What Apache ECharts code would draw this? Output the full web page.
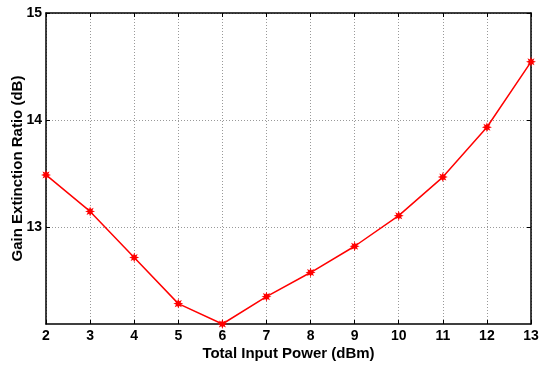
<!DOCTYPE html>
<html><head><meta charset="utf-8">
<script src="https://cdn.jsdelivr.net/npm/echarts@6/dist/echarts.min.js"></script>
<style>html,body{margin:0;padding:0;background:#fff}#c{width:539px;height:365px}</style>
</head><body><div id="c"></div>
<script>
var xValues = [2,3,4,5,6,7,8,9,10,11,12,13];
var gainRatio = [13.49,13.15,12.72,12.29,12.10,12.355,12.58,12.825,13.11,13.47,13.935,14.545];
var yTicks = [13,14,15];

// asterisk symbol shape
function starPath(){
  var pts=[]; var n=8;
  for(var i=0;i<2*n;i++){
    var r = i%2===0?1:0.5; var a = Math.PI*i/n - Math.PI/2;
    pts.push((r*Math.cos(a)).toFixed(3)+','+(r*Math.sin(a)).toFixed(3));
  }
  return 'path://M'+pts.join('L')+'Z';
}
var font = 'Liberation Sans, Arial, sans-serif';
var chart = echarts.init(document.getElementById('c'));
var axisLineStyle = {color:'#000', width:1.5};
chart.setOption({
  animation:false,
  grid:{left:46,right:8,top:13,bottom:41,outerBoundsMode:'none',containLabel:false},
  xAxis:[{
    type:'value', min:2, max:13, interval:1,
    name:'Total Input Power (dBm)', nameLocation:'middle', nameGap:22, nameMoveOverlap:false,
    nameTextStyle:{fontFamily:font,fontWeight:'bold',fontSize:15,color:'#000'},
    axisLine:{show:true,lineStyle:axisLineStyle},
    axisTick:{show:true,inside:true,length:4,lineStyle:{color:'#000'}},
    axisLabel:{fontFamily:font,fontWeight:'bold',fontSize:14,color:'#000',margin:5},
    splitLine:{show:true,lineStyle:{type:[1,2],color:'#999',width:1}}
  },{
    type:'value', min:2, max:13, interval:1, position:'top',
    axisLine:{show:true,lineStyle:axisLineStyle},
    axisTick:{show:true,inside:true,length:4,lineStyle:{color:'#000'}},
    axisLabel:{show:false}, splitLine:{show:false}
  }],
  yAxis:[{
    type:'value', min:12.1, max:15,
    name:'Gain Extinction Ratio (dB)', nameLocation:'middle', nameGap:21, nameMoveOverlap:false,
    nameTextStyle:{fontFamily:font,fontWeight:'bold',fontSize:15,color:'#000'},
    axisLine:{show:true,lineStyle:axisLineStyle},
    axisTick:{show:true,inside:true,length:4,lineStyle:{color:'#000'},customValues:yTicks},
    axisLabel:{fontFamily:font,fontWeight:'bold',fontSize:14,color:'#000',margin:4,customValues:yTicks},
    splitLine:{show:true,lineStyle:{type:[1,2],color:'#999',width:1}}
  },{
    type:'value', min:12.1, max:15, position:'right',
    axisLine:{show:true,lineStyle:axisLineStyle},
    axisTick:{show:true,inside:true,length:4,lineStyle:{color:'#000'},customValues:yTicks},
    axisLabel:{show:false}, splitLine:{show:false}
  }],
  series:[{
    type:'line', xAxisIndex:0, yAxisIndex:0,
    data: xValues.map(function(x,i){return [x,gainRatio[i]];}),
    lineStyle:{color:'#ff0000',width:1.5},
    itemStyle:{color:'#ff0000'},
    symbol: starPath(), symbolSize:10, showSymbol:true,
    clip:false
  }]
});
</script></body></html>
